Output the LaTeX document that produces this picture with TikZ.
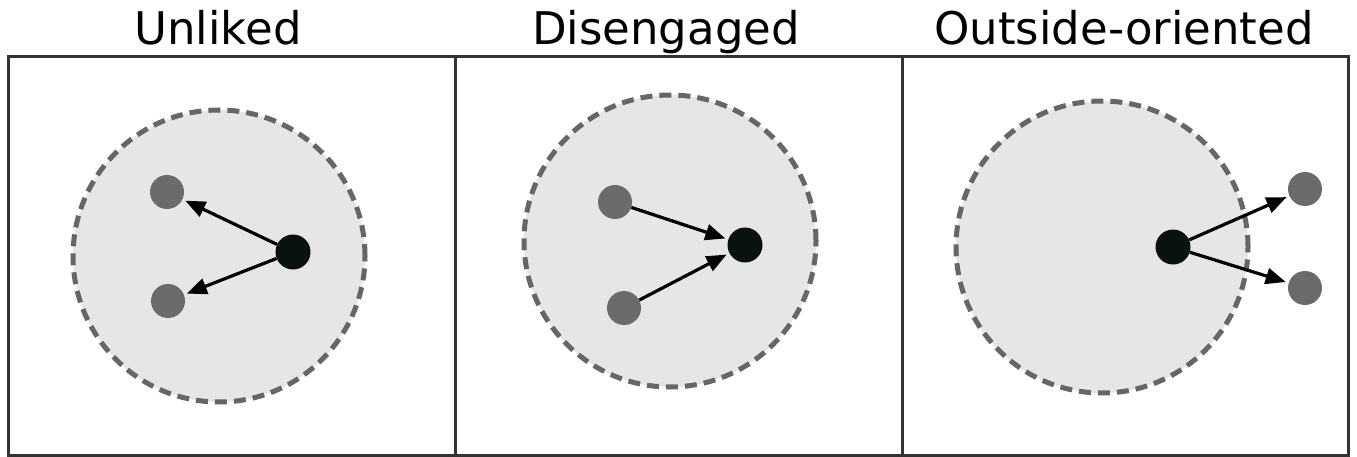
\documentclass[tikz,border=0pt]{standalone}
\usepackage{fontspec}
\setmainfont{DejaVu Sans}
\usetikzlibrary{arrows.meta}
\definecolor{boxline}{HTML}{333333}
\definecolor{ringline}{HTML}{666666}
\definecolor{ringfill}{HTML}{E6E6E6}
\definecolor{greydot}{HTML}{6B6B6B}
\definecolor{blackdot}{HTML}{0A120F}
\tikzset{
  frame/.style={draw=boxline, line width=3pt},
  ring/.style={circle, draw=ringline, fill=ringfill, line width=5pt, dash pattern=on 12pt off 7pt, minimum size=292pt, inner sep=0pt},
  gdot/.style={circle, fill=greydot, minimum size=34pt, inner sep=0pt},
  bdot/.style={circle, fill=blackdot, minimum size=35pt, inner sep=0pt},
  link/.style={draw=black, line width=3.2pt, -{Triangle[length=20pt,width=16pt]}, shorten >=3pt, shorten <=0pt},
  title/.style={font=\fontsize{45}{54}\selectfont, anchor=base, inner sep=0pt}
}
\begin{document}
\begin{tikzpicture}[x=1pt,y=-1pt]
\useasboundingbox (0,0) rectangle (1357,457);
\fill[white] (0,0) rectangle (1357,457);
% titles
\node[title] (t1) at (218,45) {Unliked};
\node[title] (t2) at (666,45) {Disengaged};
\node[title] (t3) at (1124,45) {Outside-oriented};
% panel 1
\node[ring] (r1) at (219,256) {};
\node[gdot] (g1a) at (167,192) {};
\node[gdot] (g1b) at (168,301) {};
\node[bdot] (b1) at (293,252) {};
\draw[link] (b1) -- (g1a);
\draw[link] (b1) -- (g1b);
% panel 2
\node[ring] (r2) at (670,241) {};
\node[gdot] (g2a) at (615,202) {};
\node[gdot] (g2b) at (624,308) {};
\node[bdot] (b2) at (745,245) {};
\draw[link] (g2a) -- (b2);
\draw[link] (g2b) -- (b2);
% panel 3
\node[ring] (r3) at (1102,247) {};
\node[bdot] (b3) at (1173,247) {};
\node[gdot] (g3a) at (1305,189) {};
\node[gdot] (g3b) at (1305,288) {};
\draw[link] (b3) -- (g3a);
\draw[link] (b3) -- (g3b);
% frames
\draw[frame] (8,57) rectangle (1348,455);
\draw[frame] (455,57) -- (455,455);
\draw[frame] (902,57) -- (902,455);
\end{tikzpicture}
\end{document}
